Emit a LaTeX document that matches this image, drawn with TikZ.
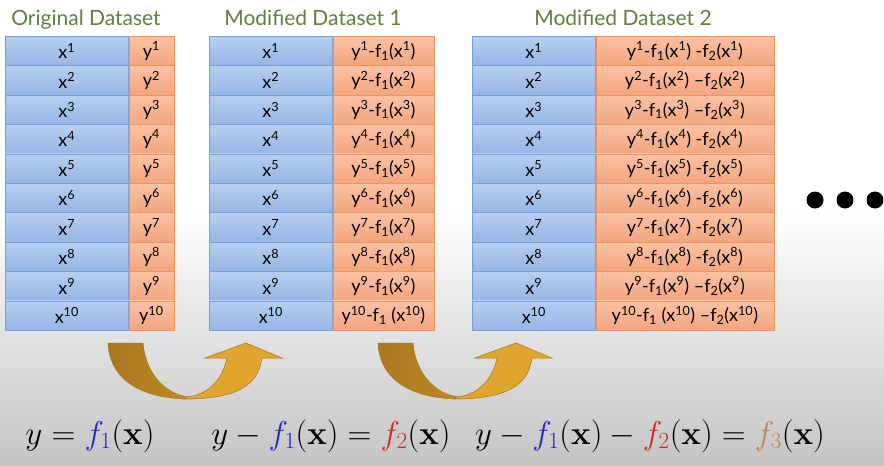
\RequirePackage{fix-cm}
\documentclass[tikz,border=0pt]{standalone}
\usepackage[no-math]{fontspec}
\setmainfont{Lato}
\usepackage{xcolor}
\definecolor{cTitle}{HTML}{5E803F}
\definecolor{cBlueTop}{HTML}{B6CEF0}
\definecolor{cBlueBot}{HTML}{95B5E3}
\definecolor{cBlueLine}{HTML}{76A0D8}
\definecolor{cOrgTop}{HTML}{FAC2A4}
\definecolor{cOrgBot}{HTML}{F2A47E}
\definecolor{cOrgLine}{HTML}{EE945A}
\definecolor{cGoldDark}{HTML}{A87820}
\definecolor{cGoldMid}{HTML}{C08A24}
\definecolor{cGoldLight}{HTML}{DFA52E}
\definecolor{cGoldEdge}{HTML}{A57619}
\definecolor{cBgGray}{HTML}{C4C4C4}
\definecolor{cF1}{HTML}{2424C8}
\definecolor{cF2}{HTML}{D02828}
\definecolor{cF3}{HTML}{B88A58}
\usepackage{tikz}
\usetikzlibrary{positioning}
\newcommand{\xsup}[1]{x\textsuperscript{#1}}
\newcommand{\ysup}[1]{y\textsuperscript{#1}}
\newcommand{\fsub}[1]{f\textsubscript{#1}}
\tikzset{
  cell/.style={inner sep=0pt,minimum height=29.4pt,line width=0.6pt,
    font=\fontsize{18}{20}\selectfont},
  cell-x/.style={cell,draw=cBlueLine,top color=cBlueTop,bottom color=cBlueBot,
    minimum width=123pt,anchor=north west},
  cell-y/.style={cell,draw=cOrgLine,top color=cOrgTop,bottom color=cOrgBot},
  node-title/.style={anchor=base,text=cTitle,font=\fontsize{21}{24}\selectfont},
  node-eq/.style={anchor=base,font=\fontsize{33}{40}\selectfont},
  dot/.style={circle,fill=black,minimum size=17pt,inner sep=0pt},
  arrow-back/.style={left color=cGoldDark,right color=cGoldMid,draw=cGoldEdge,line width=0.5pt},
  arrow-front/.style={fill=cGoldLight,draw=cGoldEdge,line width=0.5pt},
}
\begin{document}
\begin{tikzpicture}[x=1pt,y=-1pt]
  \useasboundingbox (0,0) rectangle (884,466);
  \fill[white] (0,0) rectangle (884,466);
  \shade[top color=white,bottom color=cBgGray] (0,210) rectangle (884,466);

  % titles
  \node[node-title] (t-orig) at (86,25) {Original Dataset};
  \node[node-title] (t-mod1) at (313,25) {Modified Dataset 1};
  \node[node-title] (t-mod2) at (623,25) {Modified Dataset 2};

  % original dataset
  \foreach \i in {1,...,10}{
    \node[cell-x] (o-x\i) at (5,{36+29.4*(\i-1)}) {\xsup{\i}};
    \node[cell-y,minimum width=45pt,right=0pt of o-x\i] (o-y\i) {\ysup{\i}};
  }
  % modified dataset 1
  \foreach \i in {1,...,10}{
    \node[cell-x] (m1-x\i) at (209,{36+29.4*(\i-1)}) {\xsup{\i}};
    \node[cell-y,minimum width=101pt,right=0pt of m1-x\i] (m1-y\i)
      {\ysup{\i}-\fsub{1}\ifnum\i=10\ \fi(\xsup{\i})};
  }
  % modified dataset 2
  \foreach \i/\dsh in {1/-,2/--,3/--,4/-,5/-,6/-,7/-,8/-,9/--,10/--}{
    \node[cell-x] (m2-x\i) at (472,{36+29.4*(\i-1)}) {\xsup{\i}};
    \node[cell-y,minimum width=178pt,right=0pt of m2-x\i] (m2-y\i)
      {\ysup{\i}-\fsub{1}\ifnum\i=10\ \fi(\xsup{\i}) \dsh\fsub{2}(\xsup{\i})};
  }

  % more datasets
  \foreach \k/\px in {1/815,2/845,3/875}
    \node[dot] (dot-\k) at (\px,200) {};

  % u-turn arrows
  \foreach \ox in {0,270}{
    \begin{scope}[shift={(\ox,0)}]
      \path[arrow-back] (108,343) -- (143,343)
        .. controls (146,375) and (166,394) .. (188,397) -- (190,399)
        .. controls (148,399) and (110,384) .. (108,343) -- cycle;
      \path[arrow-front] (184,399) .. controls (236,399) and (258,386) .. (262,358)
        -- (282,358) -- (246,343) -- (205,358) -- (227,358)
        .. controls (222,382) and (206,395) .. (187,397) -- cycle;
    \end{scope}
  }

  % equations
  \node[node-eq] (eq-1) at (90,444) {$y=\textcolor{cF1}{f_1}(\mathbf{x})$};
  \node[node-eq] (eq-2) at (331,444)
    {$y-\textcolor{cF1}{f_1}(\mathbf{x})=\textcolor{cF2}{f_2}(\mathbf{x})$};
  \node[node-eq] (eq-3) at (650,444)
    {$y-\textcolor{cF1}{f_1}(\mathbf{x})-\textcolor{cF2}{f_2}(\mathbf{x})=\textcolor{cF3}{f_3}(\mathbf{x})$};
\end{tikzpicture}
\end{document}
